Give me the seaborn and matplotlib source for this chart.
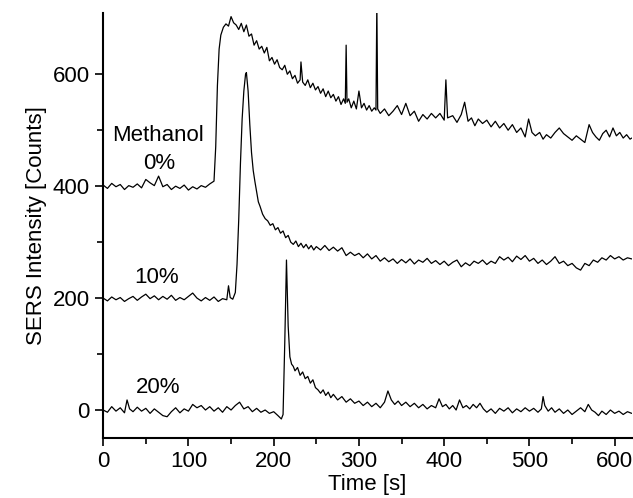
import pandas as pd
import seaborn as sns
import matplotlib

matplotlib.use("Agg")
import matplotlib.pyplot as plt

# (time [s], counts)
meth_0 = [(0, 402), (5, 396), (10, 405), (15, 399), (20, 403), (25, 394), (30, 401), (35, 398), (40, 404),
          (45, 397), (50, 412), (55, 406), (60, 401), (65, 418), (70, 399), (75, 403), (80, 394), (85, 400),
          (90, 396), (95, 402), (100, 393), (105, 399), (110, 395), (115, 401), (120, 398), (125, 404),
          (130, 409), (132, 470), (134, 580), (136, 645), (138, 670), (141, 684), (144, 690), (147, 686),
          (150, 703), (153, 692), (156, 688), (159, 680), (162, 691), (165, 676), (168, 688), (171, 668),
          (174, 672), (177, 652), (180, 660), (183, 645), (186, 650), (189, 638), (192, 648), (195, 624),
          (198, 630), (201, 618), (204, 626), (207, 612), (210, 608), (213, 616), (216, 600), (219, 606),
          (222, 592), (225, 598), (228, 584), (231, 590), (232, 622), (234, 586), (237, 580), (240, 590),
          (243, 576), (246, 584), (249, 572), (252, 578), (255, 566), (258, 574), (261, 560), (264, 570),
          (267, 558), (270, 564), (273, 552), (276, 560), (279, 546), (282, 556), (284, 548), (285, 652),
          (286, 550), (288, 556), (291, 540), (294, 552), (297, 538), (300, 570), (303, 540), (306, 548),
          (309, 536), (312, 544), (315, 534), (318, 540), (320, 536), (321, 730), (322, 538), (325, 530),
          (330, 538), (335, 526), (340, 534), (345, 544), (350, 528), (355, 548), (360, 526), (365, 534),
          (370, 516), (375, 528), (380, 520), (385, 530), (390, 522), (395, 530), (400, 518), (402, 590),
          (404, 522), (410, 526), (415, 514), (420, 528), (424, 550), (428, 516), (432, 522), (436, 508),
          (440, 520), (445, 512), (450, 518), (455, 506), (460, 516), (465, 504), (470, 512), (475, 500),
          (480, 510), (485, 496), (490, 504), (495, 488), (499, 520), (503, 496), (507, 490), (512, 496),
          (516, 484), (520, 492), (525, 486), (530, 496), (535, 504), (540, 494), (545, 488), (550, 482),
          (555, 490), (560, 484), (565, 478), (570, 510), (574, 496), (578, 488), (582, 482), (586, 494),
          (590, 500), (594, 488), (598, 504), (602, 490), (606, 496), (610, 486), (614, 492), (618, 484),
          (620, 486)]

meth_10 = [(0, 200), (5, 195), (10, 202), (15, 197), (20, 201), (25, 194), (30, 199), (35, 203), (40, 196),
           (45, 202), (50, 207), (55, 199), (60, 204), (65, 197), (70, 203), (75, 198), (80, 205), (85, 196),
           (90, 201), (95, 197), (100, 203), (105, 209), (110, 200), (115, 195), (120, 201), (125, 196),
           (130, 202), (135, 194), (140, 199), (145, 197), (147, 222), (149, 201), (152, 198), (155, 210),
           (157, 260), (159, 340), (161, 440), (163, 520), (165, 570), (167, 600), (168, 603), (170, 570),
           (172, 510), (174, 460), (176, 428), (178, 408), (180, 390), (182, 372), (184, 364), (187, 350),
           (190, 342), (193, 338), (196, 330), (199, 333), (202, 322), (205, 326), (208, 316), (211, 320),
           (214, 308), (217, 312), (220, 300), (223, 296), (226, 302), (229, 292), (232, 298), (235, 290),
           (238, 296), (241, 288), (244, 294), (247, 286), (250, 292), (255, 286), (260, 294), (265, 285),
           (270, 291), (275, 284), (280, 290), (285, 276), (290, 282), (295, 276), (300, 280), (305, 272),
           (310, 279), (315, 270), (320, 276), (325, 266), (330, 272), (335, 265), (340, 270), (345, 262),
           (350, 269), (355, 263), (360, 270), (365, 261), (370, 268), (375, 264), (380, 271), (385, 262),
           (390, 267), (395, 260), (400, 266), (405, 258), (410, 264), (415, 268), (420, 256), (425, 263),
           (430, 258), (435, 266), (440, 262), (445, 268), (450, 260), (455, 266), (460, 262), (465, 274),
           (470, 268), (475, 273), (480, 265), (485, 275), (490, 269), (495, 276), (500, 266), (505, 271),
           (510, 262), (515, 268), (520, 260), (525, 266), (530, 274), (535, 262), (540, 266), (545, 258),
           (550, 262), (555, 254), (560, 250), (565, 262), (570, 258), (575, 268), (580, 264), (585, 272),
           (590, 268), (595, 276), (600, 270), (605, 274), (610, 268), (615, 272), (620, 270)]

meth_20 = [(0, 0), (5, -4), (10, 6), (15, -2), (20, 4), (25, -5), (28, 18), (31, 2), (35, -3), (40, 5),
           (45, -2), (50, 3), (55, -6), (60, 2), (65, -4), (70, -10), (75, -12), (80, -3), (85, 4), (90, -5),
           (95, 2), (100, -2), (105, 10), (110, 4), (115, 8), (120, 0), (125, 6), (130, -2), (135, 4),
           (140, -4), (145, 6), (150, 0), (155, 8), (160, 14), (165, 2), (170, 6), (175, -3), (180, 3),
           (185, -4), (190, 0), (195, -6), (200, -3), (205, -10), (209, -16), (211, -8), (213, 120),
           (215, 268), (217, 150), (219, 95), (221, 82), (223, 78), (225, 70), (228, 76), (231, 62),
           (234, 68), (237, 56), (240, 60), (243, 48), (246, 54), (249, 40), (252, 36), (255, 30), (258, 36),
           (261, 26), (264, 32), (267, 22), (270, 28), (275, 18), (280, 24), (285, 14), (290, 20), (295, 12),
           (300, 16), (305, 8), (310, 14), (315, 6), (320, 12), (325, 4), (330, 14), (334, 34), (338, 18),
           (342, 10), (346, 16), (350, 8), (355, 14), (360, 6), (365, 12), (370, 4), (375, 10), (380, 2),
           (385, 8), (390, 4), (394, 20), (398, 6), (402, 10), (406, 2), (410, 8), (414, 0), (418, 18),
           (422, 4), (426, 8), (430, 2), (434, 10), (438, 4), (442, 12), (446, 2), (450, -4), (455, 2),
           (460, -6), (465, 3), (470, -2), (475, 4), (480, -5), (485, 2), (490, -3), (495, 4), (500, -2),
           (505, 3), (510, -4), (514, 2), (516, 24), (518, 8), (522, -2), (526, 4), (530, -4), (535, 2),
           (540, -6), (545, 0), (550, -8), (555, -2), (560, 4), (565, -3), (569, 10), (573, 0), (577, -4),
           (581, -10), (585, -2), (590, -8), (595, 0), (600, -6), (605, -2), (610, -8), (615, -3), (620, -6)]

labels = ["0%", "10%", "20%"]
label_pos = [(66, 441), (63, 236), (65, 41)]
x_ticks = [0, 100, 200, 300, 400, 500, 600]
y_ticks = [0, 200, 400, 600]

sns.set_theme(style="ticks")
plt.rcParams["font.family"] = ["Liberation Sans", "DejaVu Sans"]
plt.rcParams["text.color"] = "black"
plt.rcParams["axes.labelcolor"] = "black"

fig = plt.figure(figsize=(6.33, 4.98), dpi=100)
ax = fig.add_axes([0.163, 0.1205, 0.835, 0.854])

for trace in [meth_0, meth_10, meth_20]:
    df = pd.DataFrame(trace, columns=["t", "I"])
    sns.lineplot(data=df, x="t", y="I", ax=ax, color="black", lw=0.9,
                 estimator=None, sort=False)

ax.text(64, 491, "Methanol", fontsize=16, ha="center", va="center", color="black")
for lab, (x, y) in zip(labels, label_pos):
    ax.text(x, y, lab, fontsize=16, ha="center", va="center", color="black")

ax.set_xlim(0, 620)
ax.set_ylim(-50, 710)
ax.set_xticks(x_ticks)
ax.set_yticks(y_ticks)
ax.set_xticks(range(50, 620, 100), minor=True)
ax.set_yticks([100, 300, 500], minor=True)
ax.tick_params(which="major", length=6, width=1.2, labelsize=16, colors="black")
ax.tick_params(which="minor", length=4, width=1.2, colors="black")
ax.set_xlabel("Time [s]", fontsize=16, labelpad=1, color="black")
ax.set_ylabel("SERS Intensity [Counts]", fontsize=16, labelpad=4, color="black")
sns.despine(ax=ax)
for s in ["left", "bottom"]:
    ax.spines[s].set_linewidth(1.5)
    ax.spines[s].set_color("black")

fig.savefig("out.png", dpi=100)
